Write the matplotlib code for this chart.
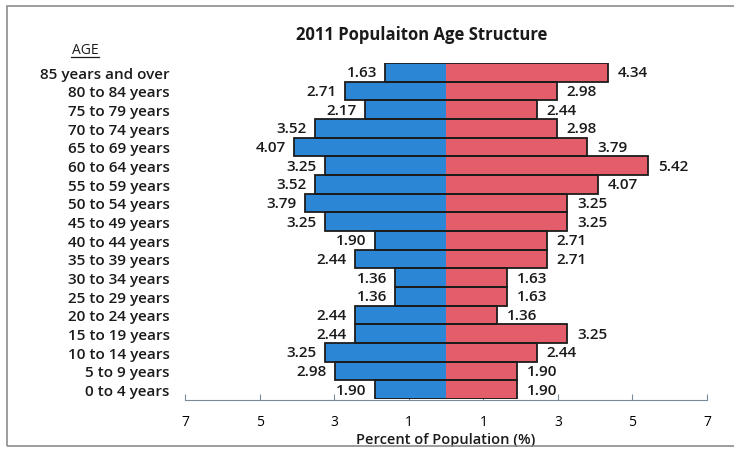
import matplotlib.pyplot as plt
from matplotlib.lines import Line2D
from matplotlib.patches import Rectangle

AGE_GROUPS = ['0 to 4 years', '5 to 9 years', '10 to 14 years', '15 to 19 years',
              '20 to 24 years', '25 to 29 years', '30 to 34 years', '35 to 39 years',
              '40 to 44 years', '45 to 49 years', '50 to 54 years', '55 to 59 years',
              '60 to 64 years', '65 to 69 years', '70 to 74 years', '75 to 79 years',
              '80 to 84 years', '85 years and over']
MALE = [1.90, 2.98, 3.25, 2.44, 2.44, 1.36, 1.36, 2.44, 1.90, 3.25,
        3.79, 3.52, 3.25, 4.07, 3.52, 2.17, 2.71, 1.63]
FEMALE = [1.90, 1.90, 2.44, 3.25, 1.36, 1.63, 1.63, 2.71, 2.71, 3.25,
          3.25, 4.07, 5.42, 3.79, 2.98, 2.44, 2.98, 4.34]
TICKS = [-7, -5, -3, -1, 1, 3, 5, 7]

BLUE = '#2b86d6'
RED = '#e35d6a'
EDGE = '#1c1c1c'
TEXT = '#1a1a1a'

plt.rcParams['font.family'] = ['Open Sans', 'DejaVu Sans']

fig = plt.figure(figsize=(7.34, 4.52), dpi=100)
ax = fig.add_axes([185 / 734, 1 - 400 / 452, 522 / 734, 336 / 452])

y = list(range(len(AGE_GROUPS)))
neg = [-v for v in MALE]
total = [m + f for m, f in zip(MALE, FEMALE)]

ax.barh(y, neg, height=1.0, color=BLUE, linewidth=0, zorder=2)
ax.barh(y, FEMALE, height=1.0, color=RED, linewidth=0, zorder=2)
# outline around each combined row, so no line is drawn at zero
ax.barh(y, total, left=neg, height=1.0, fill=False, edgecolor=EDGE,
        linewidth=1.3, zorder=3)

box = dict(boxstyle='square,pad=0.08', facecolor='white', edgecolor='none')
for i, (m, f) in enumerate(zip(MALE, FEMALE)):
    ax.annotate(f'{m:.2f}', (-m, i), xytext=(-6, 0), textcoords='offset points',
                ha='right', va='center', fontsize=11, fontweight='semibold',
                color=TEXT, bbox=box, zorder=4)
    ax.annotate(f'{f:.2f}', (f, i), xytext=(7, 0), textcoords='offset points',
                ha='left', va='center', fontsize=11, fontweight='semibold',
                color=TEXT, bbox=box, zorder=4)

ax.set_xlim(-7, 7)
ax.set_ylim(-0.5, len(AGE_GROUPS) - 0.5)
ax.set_xticks(TICKS)
ax.set_xticklabels([str(abs(t)) for t in TICKS], fontsize=11, fontweight='semibold', color=TEXT)
ax.set_yticks(y)
ax.set_yticklabels(AGE_GROUPS, fontsize=11, fontweight='semibold', color=TEXT)
ax.tick_params(axis='y', length=0, pad=11)
ax.tick_params(axis='x', direction='in', length=4, color='#7a8a99', pad=10)
for side in ['top', 'right', 'left']:
    ax.spines[side].set_visible(False)
ax.spines['bottom'].set_color('#7a8a99')
ax.spines['bottom'].set_position(('outward', 1))
ax.set_xlabel('Percent of Population (%)', fontsize=10.5, fontweight='semibold',
              color=TEXT, labelpad=2)

fig.text(422 / 734, 1 - 35 / 452, '2011 Populaiton Age Structure', ha='center',
         va='center', fontsize=12, fontweight='bold', color=TEXT)
fig.text(85 / 734, 1 - 50 / 452, 'AGE', ha='center', va='center', fontsize=10,
         color=TEXT)
fig.add_artist(Line2D([71 / 734, 99 / 734], [1 - 58 / 452, 1 - 58 / 452],
                      color=TEXT, linewidth=0.9))

fig.add_artist(Rectangle((7 / 734, 1 - 447 / 452), 740 / 734, 440 / 452, fill=False,
                         edgecolor='#8c8c8c', linewidth=1.2))

fig.savefig('out.png', dpi=100)
